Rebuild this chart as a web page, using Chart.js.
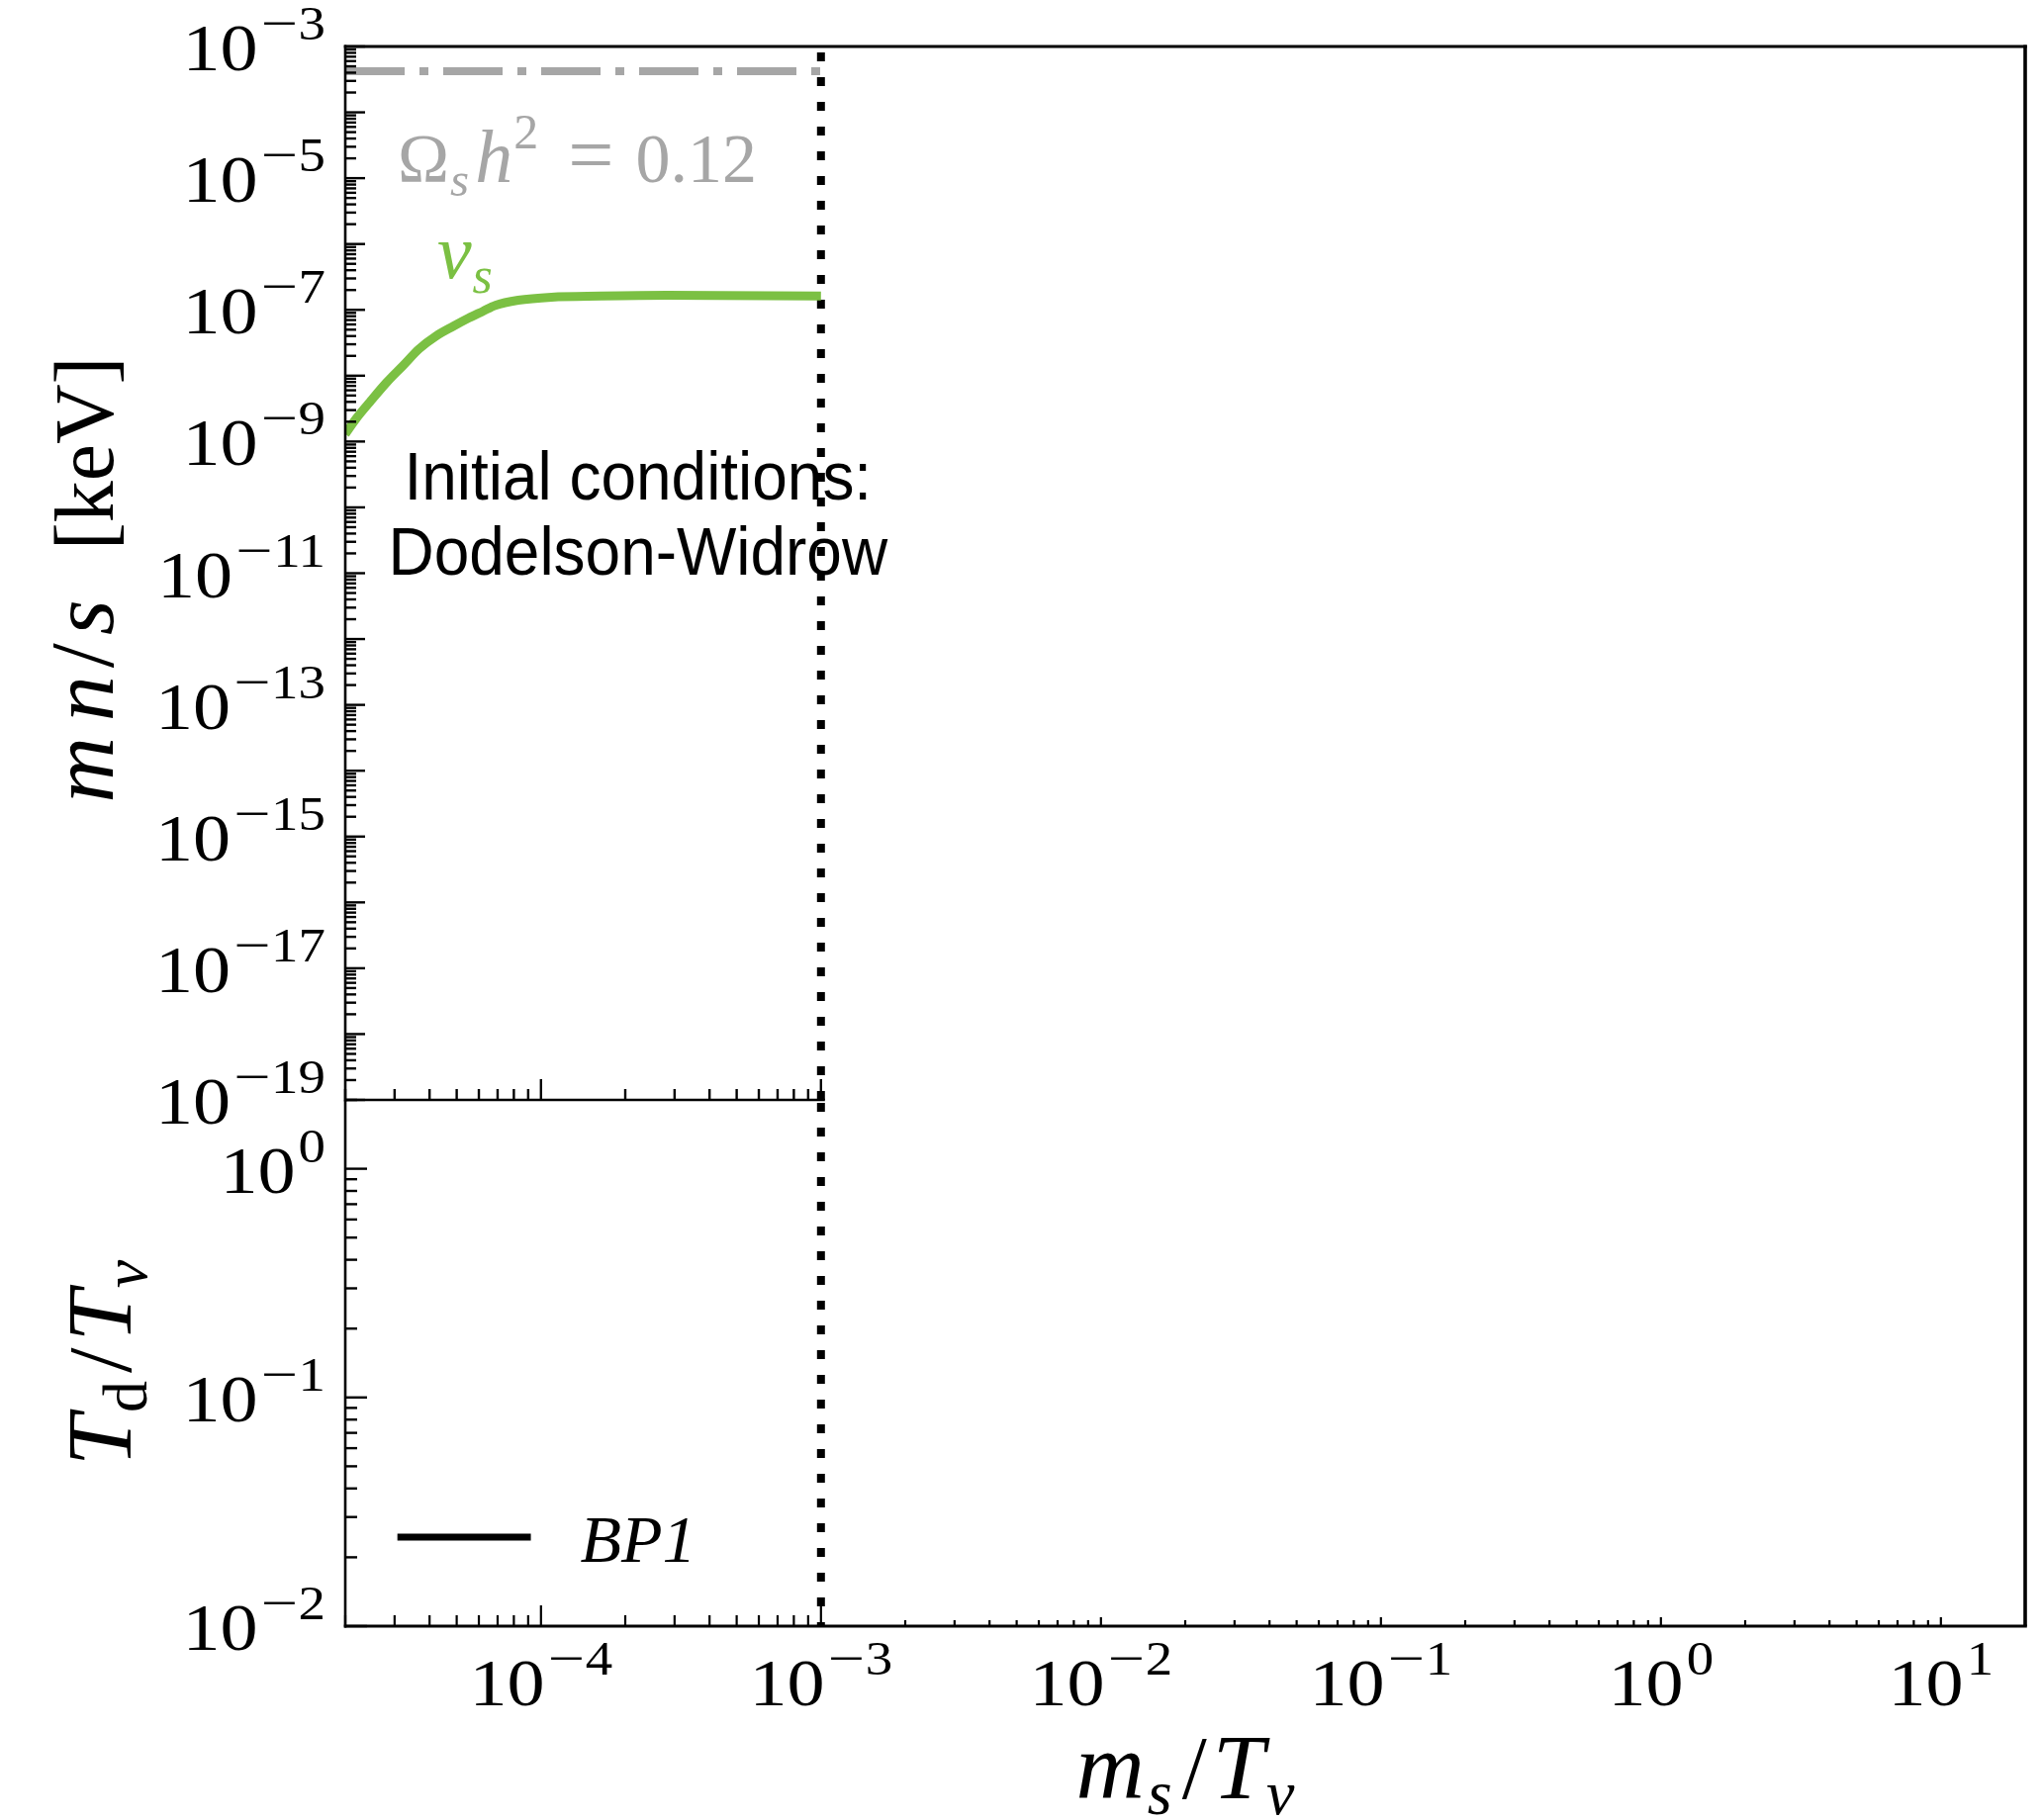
<!DOCTYPE html>
<html><head><meta charset="utf-8">
<script src="https://cdn.jsdelivr.net/npm/chart.js@4/dist/chart.umd.min.js"></script>
<style>
html,body{margin:0;padding:0;background:#fff;}
#wrap{position:relative;width:2064px;height:1840px;background:#fff;}
canvas{position:absolute;left:0;top:0;}
</style></head><body>
<div id="wrap"><canvas id="cTop" width="2064" height="1840"></canvas><canvas id="cBot" width="2064" height="1840"></canvas></div>
<script>
// ---------------- data ----------------
const xRange = [2e-5, 20];
const topYRange = [1e-19, 1e-3];
const botYRange = [1e-2, 2];

const nuSX = [2.0e-5, 2.2e-5, 2.45e-5, 2.81e-5, 3.23e-5, 3.67e-5, 4.22e-5, 4.85e-5, 5.52e-5, 6.2e-5, 6.87e-5, 8.29e-5, 1.09e-4, 1.64e-4, 2.81e-4, 1.0e-3];
const nuSY = [1.3e-9, 2.3e-9, 4.0e-9, 7.9e-9, 1.45e-8, 2.55e-8, 4.0e-8, 5.6e-8, 7.5e-8, 9.5e-8, 1.17e-7, 1.4e-7, 1.56e-7, 1.62e-7, 1.66e-7, 1.63e-7];

const omegaX = [2e-5, 1e-3];
const omegaY = [4.2e-4, 4.2e-4];

const initCondX = [1e-3, 1e-3];

const bp1X = [];
const bp1Y = [];

const xLabelExps = [-4, -3, -2, -1, 0, 1];
const topYLabelExps = [-3, -5, -7, -9, -11, -13, -15, -17, -19];
const botYLabelExps = [0, -1, -2];

// ---------------- helpers ----------------
const SERIF = '"Liberation Serif", "DejaVu Serif", serif';
const SANS = '"Liberation Sans", Arial, sans-serif';
const GRAY = '#a6a6a6';
const GREEN = '#7bc043';
function sf(size, style) { return (style ? style + ' ' : '') + size + 'px ' + SERIF; }

function drawPow(ctx, exp, x, y, align) {
  const base = 68, sup = 49, raise = 31, minusW = 38, sx = 1.12;
  ctx.save();
  ctx.fillStyle = '#000';
  ctx.textBaseline = 'alphabetic';
  ctx.font = sf(base);
  const w10 = ctx.measureText('10').width * sx;
  ctx.font = sf(sup);
  const digits = String(Math.abs(exp));
  const wd = ctx.measureText(digits).width * sx;
  const wsup = (exp < 0 ? minusW : 0) + wd;
  const total = w10 + 3 + wsup;
  const x0 = align === 'right' ? x - total : (align === 'center' ? x - total / 2 : x);
  ctx.textAlign = 'left';
  ctx.save(); ctx.translate(x0, y); ctx.scale(sx, 1);
  ctx.font = sf(base); ctx.fillText('10', 0, 0);
  ctx.restore();
  let xs = x0 + w10 + 3;
  ctx.font = sf(sup);
  if (exp < 0) {
    ctx.save(); ctx.translate(xs + minusW / 2, y - raise); ctx.scale(1.35, 1);
    ctx.textAlign = 'center'; ctx.fillText('\u2212', 0, 0);
    ctx.restore();
    xs += minusW;
  }
  ctx.save(); ctx.translate(xs, y - raise); ctx.scale(sx, 1);
  ctx.fillText(digits, 0, 0);
  ctx.restore();
  ctx.restore();
}

function drawRuns(ctx, runs, x, y, align) {
  let total = 0;
  for (const r of runs) {
    ctx.font = sf(r.size, r.style);
    r.w = ctx.measureText(r.t).width + (r.gap || 0);
    total += r.w;
  }
  let xs = align === 'center' ? x - total / 2 : (align === 'right' ? x - total : x);
  ctx.textAlign = 'left';
  ctx.textBaseline = 'alphabetic';
  for (const r of runs) {
    ctx.font = sf(r.size, r.style);
    ctx.fillText(r.t, xs, y + (r.dy || 0));
    xs += r.w;
  }
}

function logTicks(min, max) {
  const out = [];
  for (let d = Math.floor(Math.log10(min)) - 1; d <= Math.ceil(Math.log10(max)); d++) {
    for (let m = 1; m <= 9; m++) {
      const v = m * Math.pow(10, d);
      if (v >= min * 0.9999 && v <= max * 1.0001) out.push({ v, major: m === 1 });
    }
  }
  return out;
}

function line(ctx, x1, y1, x2, y2, w) {
  ctx.lineWidth = w;
  ctx.beginPath(); ctx.moveTo(x1, y1); ctx.lineTo(x2, y2); ctx.stroke();
}

const pts = (xs, ys) => xs.map((x, i) => ({ x, y: ys[i] }));

// ---------------- top panel ----------------
const topDecor = {
  id: 'topDecor',
  beforeDatasetsDraw(chart) {
    const ctx = chart.ctx, xs = chart.scales.x, ys = chart.scales.y;
    ctx.save();
    // Omega label
    ctx.fillStyle = GRAY;
    const ox = xs.getPixelForValue(3.08e-5), oy = ys.getPixelForValue(8.7e-6);
    drawRuns(ctx, [
      { t: '\u03A9', size: 70, gap: 1 },
      { t: 's', size: 49, style: 'italic', dy: 14, gap: 6 },
      { t: 'h', size: 76, style: 'italic', gap: 1 },
      { t: '2', size: 50, dy: -34, gap: 30 },
      { t: '=', size: 82, gap: 22 },
      { t: '0.12', size: 70 }
    ], ox, oy, 'left');
    // nu_s label
    ctx.fillStyle = GREEN;
    const nx = xs.getPixelForValue(4.26e-5), ny = ys.getPixelForValue(3.0e-7);
    drawRuns(ctx, [
      { t: '\u03BD', size: 78, style: 'italic', gap: 1 },
      { t: 's', size: 52, style: 'italic', dy: 15 }
    ], nx, ny, 'left');
    // Initial conditions text
    ctx.fillStyle = '#000';
    ctx.font = '68px ' + SANS;
    ctx.textAlign = 'center';
    ctx.textBaseline = 'alphabetic';
    const tx = xs.getPixelForValue(2.22e-4);
    ctx.save(); ctx.translate(tx, ys.getPixelForValue(1.3e-10)); ctx.scale(0.94, 1);
    ctx.fillText('Initial conditions:', 0, 0); ctx.restore();
    ctx.save(); ctx.translate(tx, ys.getPixelForValue(9.5e-12)); ctx.scale(0.94, 1);
    ctx.fillText('Dodelson-Widrow', 0, 0); ctx.restore();
    ctx.restore();
  },
  afterDatasetsDraw(chart) {
    const ctx = chart.ctx, xs = chart.scales.x, ys = chart.scales.y, a = chart.chartArea;
    ctx.save();
    ctx.strokeStyle = '#000';
    ctx.lineCap = 'butt';
    const xEnd = xs.getPixelForValue(initCondX[0]);
    // spines
    line(ctx, a.left, a.top - 1.5, a.left, a.bottom + 1.5, 2.6);
    line(ctx, a.left - 1.3, a.top, a.right + 1.8, a.top, 3);
    line(ctx, a.right, a.top - 1.5, a.right, a.bottom, 3.6);
    line(ctx, a.left, a.bottom, xEnd + 4, a.bottom, 2.6);
    // left y ticks
    for (const t of logTicks(topYRange[0], topYRange[1])) {
      const y = ys.getPixelForValue(t.v);
      line(ctx, a.left, y, a.left + (t.major ? 20 : 11), y, 2.4);
    }
    // bottom x ticks (left region only)
    for (const t of logTicks(xRange[0], initCondX[0])) {
      const x = xs.getPixelForValue(t.v);
      line(ctx, x, a.bottom, x, a.bottom - (t.major ? 21 : 11), 2.4);
    }
    // y tick labels
    for (const e of topYLabelExps) {
      drawPow(ctx, e, a.left - 20, ys.getPixelForValue(Math.pow(10, e)) + 24, 'right');
    }
    // y title
    ctx.fillStyle = '#000';
    ctx.translate(114, 586);
    ctx.rotate(-Math.PI / 2);
    drawRuns(ctx, [
      { t: 'm', size: 92, style: 'italic', gap: 16 },
      { t: 'n', size: 92, style: 'italic', gap: 8 },
      { t: '/', size: 90, gap: 8 },
      { t: 's', size: 92, style: 'italic', gap: 50 },
      { t: '[keV]', size: 84 }
    ], 0, 0, 'center');
    ctx.restore();
  }
};

new Chart(document.getElementById('cTop'), {
  type: 'line',
  data: {
    datasets: [
      { label: '\u03A9_s h^2 = 0.12', data: pts(omegaX, omegaY), borderColor: GRAY, borderWidth: 8,
        borderDash: [60, 15, 9, 15], pointRadius: 0, borderCapStyle: 'butt' },
      { label: '\u03BD_s', data: pts(nuSX, nuSY), borderColor: GREEN, borderWidth: 9,
        pointRadius: 0, cubicInterpolationMode: 'monotone', borderCapStyle: 'butt', borderJoinStyle: 'round' },
      { label: 'initial', data: pts(initCondX, topYRange), borderColor: '#000', borderWidth: 8,
        borderDash: [9, 16], pointRadius: 0, borderCapStyle: 'butt' }
    ]
  },
  options: {
    responsive: false, animation: false, devicePixelRatio: 1, events: [],
    layout: { padding: { left: 349, right: 17, top: 47, bottom: 1840 - 1112 } },
    plugins: { legend: { display: false }, tooltip: { enabled: false } },
    scales: {
      x: { type: 'logarithmic', min: xRange[0], max: xRange[1], display: false },
      y: { type: 'logarithmic', min: topYRange[0], max: topYRange[1], display: false }
    }
  },
  plugins: [topDecor]
});

// ---------------- bottom panel ----------------
const botDecor = {
  id: 'botDecor',
  afterDatasetsDraw(chart) {
    const ctx = chart.ctx, xs = chart.scales.x, ys = chart.scales.y, a = chart.chartArea;
    ctx.save();
    ctx.strokeStyle = '#000';
    ctx.lineCap = 'butt';
    // spines
    line(ctx, a.left, a.top, a.left, a.bottom + 1.5, 2.6);
    line(ctx, a.left - 1.3, a.bottom, a.right + 1.8, a.bottom, 3);
    line(ctx, a.right, a.top, a.right, a.bottom, 3.6);
    // y ticks
    for (const t of logTicks(botYRange[0], botYRange[1])) {
      const y = ys.getPixelForValue(t.v);
      line(ctx, a.left, y, a.left + (t.major ? 22 : 12), y, 2.4);
    }
    // x ticks
    const xCut = xs.getPixelForValue(initCondX[0]);
    for (const t of logTicks(xRange[0], xRange[1])) {
      const x = xs.getPixelForValue(t.v);
      const len = x <= xCut + 1 ? (t.major ? 21 : 11) : (t.major ? 9 : 6);
      line(ctx, x, a.bottom, x, a.bottom - len, 2.2);
    }
    // labels
    for (const e of botYLabelExps) {
      drawPow(ctx, e, a.left - 20, ys.getPixelForValue(Math.pow(10, e)) + 24, 'right');
    }
    for (const e of xLabelExps) {
      drawPow(ctx, e, xs.getPixelForValue(Math.pow(10, e)), a.bottom + 80, 'center');
    }
    // legend (from dataset style)
    const ds = chart.data.datasets[0];
    ctx.strokeStyle = ds.borderColor;
    const lx = xs.getPixelForValue(3.07e-5), lx2 = xs.getPixelForValue(9.2e-5);
    const ly = ys.getPixelForValue(0.0245);
    line(ctx, lx, ly, lx2, ly, ds.borderWidth);
    ctx.fillStyle = '#000';
    drawRuns(ctx, [{ t: ds.label, size: 68, style: 'italic' }], xs.getPixelForValue(1.38e-4), ly + 25, 'left');
    // x title
    drawRuns(ctx, [
      { t: 'm', size: 96, style: 'italic', gap: 3 },
      { t: 's', size: 64, style: 'italic', dy: 16, gap: 10 },
      { t: '/', size: 90, gap: 6 },
      { t: 'T', size: 94, style: 'italic', gap: 2 },
      { t: '\u03BD', size: 64, style: 'italic', dy: 16 }
    ], (a.left + a.right) / 2, 1818, 'center');
    // y title
    ctx.translate(132, (a.top + a.bottom) / 2);
    ctx.rotate(-Math.PI / 2);
    drawRuns(ctx, [
      { t: 'T', size: 94, style: 'italic', gap: 2 },
      { t: 'd', size: 64, dy: 16, gap: 8 },
      { t: '/', size: 92, gap: 6 },
      { t: 'T', size: 94, style: 'italic', gap: 2 },
      { t: '\u03BD', size: 64, style: 'italic', dy: 16 }
    ], 0, 0, 'center');
    ctx.restore();
  }
};

new Chart(document.getElementById('cBot'), {
  type: 'line',
  data: {
    datasets: [
      { label: 'BP1', data: pts(bp1X, bp1Y), borderColor: '#000', borderWidth: 7, pointRadius: 0 },
      { label: 'initial', data: pts(initCondX, botYRange), borderColor: '#000', borderWidth: 8,
        borderDash: [9, 16], borderDashOffset: 5, pointRadius: 0, borderCapStyle: 'butt' }
    ]
  },
  options: {
    responsive: false, animation: false, devicePixelRatio: 1, events: [],
    layout: { padding: { left: 349, right: 17, top: 1112, bottom: 1840 - 1644 } },
    plugins: { legend: { display: false }, tooltip: { enabled: false } },
    scales: {
      x: { type: 'logarithmic', min: xRange[0], max: xRange[1], display: false },
      y: { type: 'logarithmic', min: botYRange[0], max: botYRange[1], display: false }
    }
  },
  plugins: [botDecor]
});
</script>
</body></html>
